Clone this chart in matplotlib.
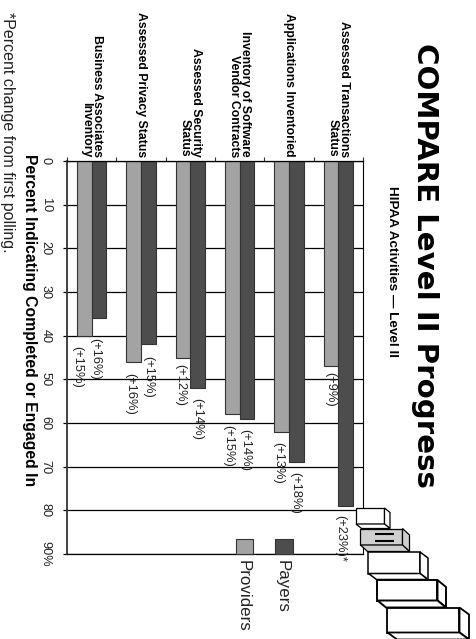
import matplotlib as mpl
mpl.use("Agg")
import matplotlib.pyplot as plt
from matplotlib.patches import Polygon, Rectangle

mpl.rcParams['font.family'] = ['Liberation Sans', 'DejaVu Sans']

W, H = 477, 639

categories = [
    "Business Associates\nInventory",
    "Assessed Privacy Status",
    "Assessed Security\nStatus",
    "Inventory of Software\nVendor Contracts",
    "Applications Inventoried",
    "Assessed Transactions\nStatus",
]
providers = [40, 46, 45, 58, 62, 47]
payers = [36, 42, 52, 59, 69, 79]
provider_change = ["(+15%)", "(+16%)", "(+12%)", "(+15%)", "(+13%)", "(+9%)"]
payer_change = ["(+16%)", "(+15%)", "(+14%)", "(+14%)", "(+18%)", "(+23%)*"]
value_ticks = [0, 10, 20, 30, 40, 50, 60, 70, 80, 90]
value_labels = ["0", "10", "20", "30", "40", "50", "60", "70", "80", "90%"]

# hand-tuned label nudges in pixels: sideways from the bar centre, gap past the bar end
provider_nudge = [(-7, 10), (-3, 11), (-3, 6), (-4, 11), (-3, 10), (-1, 6)]
payer_nudge = [(-4, 20), (0, 12), (0, 10), (-2, 10), (-1, 10), (-5.5, 9)]

color_prov = "#a3a3a3"
color_pay = "#4d4d4d"
color_edge = "#333333"
BAR_W = 0.294

fig = plt.figure(figsize=(W / 100, H / 100), dpi=100)
ax = fig.add_axes([67 / W, 1 - 554 / H, (363 - 67) / W, (554 - 161) / H])
ax.set_xlim(0, len(categories))
ax.set_ylim(90, 0)

for y in value_ticks:
    ax.axhline(y, color="black", lw=0.9, zorder=1)

for i in range(len(categories)):
    ax.bar(i + 0.5 - BAR_W / 2, providers[i], BAR_W, color=color_prov,
           edgecolor=color_edge, lw=0.8, zorder=2)
    ax.bar(i + 0.5 + BAR_W / 2, payers[i], BAR_W, color=color_pay,
           edgecolor=color_edge, lw=0.8, zorder=2)
    dx, gap = provider_nudge[i]
    ax.annotate(provider_change[i], (i + 0.5 - BAR_W / 2, providers[i]),
                xytext=(dx, -gap), textcoords="offset pixels", rotation=-90,
                ha="center", va="top", fontsize=9.3, color="#222222", zorder=3)
    dx, gap = payer_nudge[i]
    ax.annotate(payer_change[i], (i + 0.5 + BAR_W / 2, payers[i]),
                xytext=(dx, -gap), textcoords="offset pixels", rotation=-90,
                ha="center", va="top", fontsize=9.3, color="#222222", zorder=3)
    ax.annotate(categories[i], (i + 0.5, 0), xytext=(0, 4), textcoords="offset pixels",
                rotation=-90, ha="center", va="bottom", multialignment="right",
                fontsize=8.8, fontweight="bold", linespacing=0.95)

ax.set_xticks(range(len(categories) + 1))
ax.set_xticklabels([])
ax.xaxis.tick_top()
ax.set_yticks(value_ticks)
ax.set_yticklabels(value_labels, rotation=-90, va="center", fontsize=9.2, color="#222222")
ax.tick_params(axis="x", length=3, width=0.8, color="#333333")
ax.tick_params(axis="y", length=3, width=0.9, pad=8)

ax.spines["left"].set_linewidth(1.3)
ax.spines["left"].set_color("#333333")
ax.spines["right"].set_linewidth(0.8)
ax.spines["bottom"].set_linewidth(0.9)
ax.spines["top"].set_linewidth(0.9)

# full-figure layer in pixel units for titles, legend and the step icon
top = fig.add_axes([0, 0, 1, 1], zorder=5)
top.set_xlim(0, W)
top.set_ylim(H, 0)
top.axis("off")
top.patch.set_alpha(0)


def side_text(x, y, s, **kw):
    top.text(x, y, s, rotation=-90, ha="center", **kw)


side_text(425, 43, "COMPARE Level II Progress", va="top", fontsize=21.1,
          fontweight="bold", family="DejaVu Sans")
side_text(392, 186, "HIPAA Activities \u2014 Level II", va="top", fontsize=9.7, fontweight="bold")
side_text(29, 154, "Percent Indicating Completed or Engaged In", va="top",
          fontsize=11.3, fontweight="bold")
side_text(7, 12, "*Percent change from first polling.", va="top", fontsize=11.5, color="#222222")

# legend
top.add_patch(Rectangle((275, 539), 18, 15, fc=color_pay, ec=color_edge, lw=0.8))
top.add_patch(Rectangle((236, 539), 17, 15, fc=color_prov, ec=color_edge, lw=0.8))
side_text(282, 560, "Payers", va="top", fontsize=12.2, color="#222222")
side_text(243, 560, "Providers", va="top", fontsize=12.2, color="#222222")


def box(x0, x1, y0, y1, dx, dy, face="white", lw=1.2):
    """Small 3D block: front face plus right and lower faces."""
    faces = [
        [(x0, y0), (x1, y0), (x1, y1), (x0, y1)],
        [(x1, y0), (x1 + dx, y0 + dy), (x1 + dx, y1 + dy), (x1, y1)],
        [(x0, y1), (x1, y1), (x1 + dx, y1 + dy), (x0 + dx, y1 + dy)],
    ]
    for pts in faces:
        top.add_patch(Polygon(pts, closed=True, fc=face, ec="black", lw=lw, joinstyle="miter"))


box(356, 384.5, 508, 524, 5.5, 4.5, lw=0.9)
box(360.5, 402.5, 528.5, 545, 7, 6.5, face="#cfcfcf", lw=0.9)
box(368.5, 420, 552, 573.5, 8, 6, lw=1.1)
box(377.5, 437.5, 580, 600.5, 8.5, 7, lw=1.4)
box(387.5, 459.5, 607.5, 632.5, 9.5, 7, lw=1.3)
top.plot([375.5, 394.5], [533.5, 533.5], color="black", lw=1.5, solid_capstyle="butt")
top.plot([375.5, 394.5], [540.5, 540.5], color="black", lw=1.5, solid_capstyle="butt")

fig.savefig("out.png", dpi=100)
